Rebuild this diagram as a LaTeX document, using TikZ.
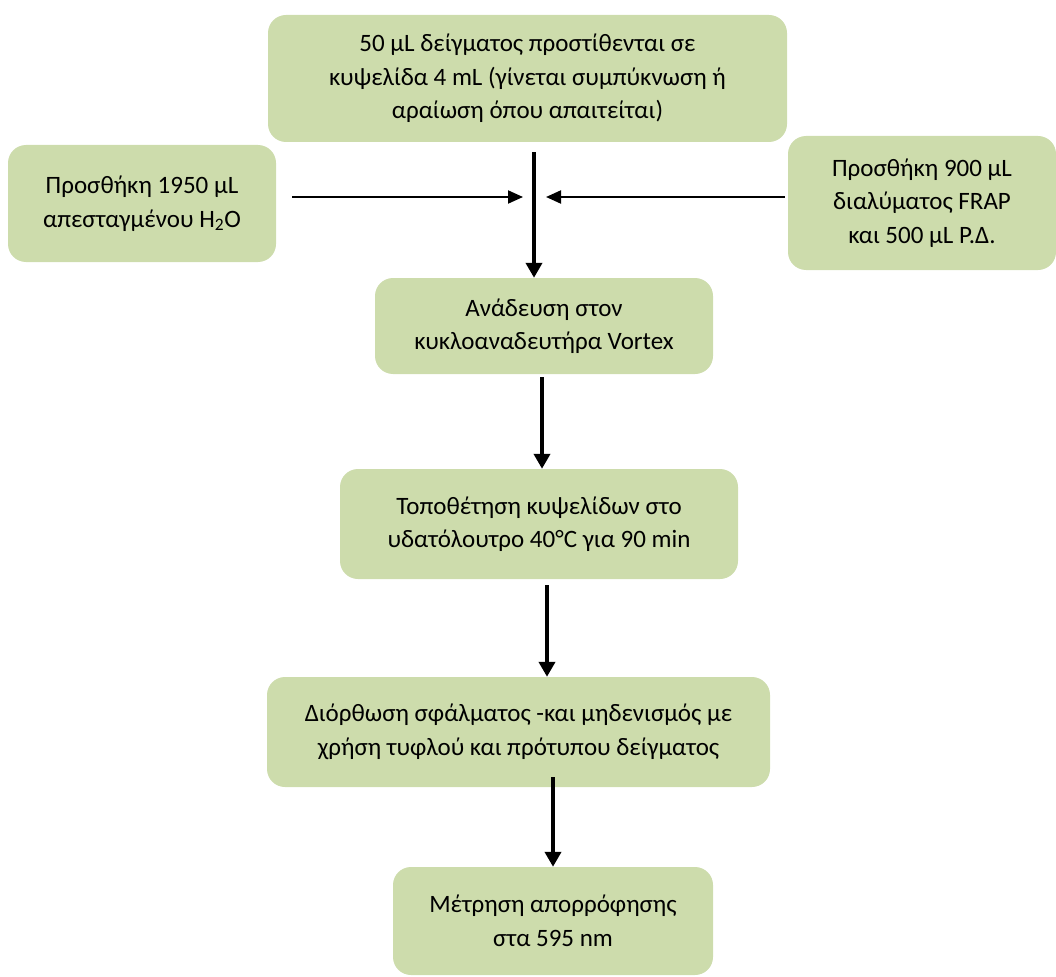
\documentclass[tikz,border=0pt]{standalone}
\usepackage{fontspec}
\setmainfont{Carlito}
\usetikzlibrary{arrows.meta,calc}
\definecolor{boxgreen}{HTML}{CDDCAC}
\begin{document}
\begin{tikzpicture}[x=1pt,y=-1pt,
  stage/.style={fill=boxgreen, rounded corners=18pt, align=center,
    font=\fontsize{25}{33.5}\selectfont, inner sep=0pt, text=black},
  flow/.style={line width=4pt, -{Triangle[length=15pt,width=16pt]}},
  feed/.style={line width=2pt, -{Triangle[length=15pt,width=13pt]}}]
\useasboundingbox (0,0) rectangle (1056,976);

% process stages
\node[stage, minimum width=519pt, minimum height=127pt] (top) at (527.5,78.5)
  {50 μL δείγματος προστίθενται σε\\κυψελίδα 4 mL (γίνεται συμπύκνωση ή\\αραίωση όπου απαιτείται)};
\node[stage, minimum width=268pt, minimum height=117pt] (water) at (142,203.5)
  {Προσθήκη 1950 μL\\απεσταγμένου H\textsubscript{2}O};
\node[stage, minimum width=268pt, minimum height=134pt] (frap) at (922,203)
  {Προσθήκη 900 μL\\διαλύματος FRAP\\και 500 μL Ρ.Δ.};
\node[stage, minimum width=338pt, minimum height=96pt] (vortex) at (544,326)
  {Ανάδευση στον\\κυκλοαναδευτήρα Vortex};
\node[stage, minimum width=398pt, minimum height=110pt] (bath) at (539,524)
  {Τοποθέτηση κυψελίδων στο\\υδατόλουτρο 40°C για 90 min};
\node[stage, minimum width=503pt, minimum height=110pt] (correction) at (518.5,732)
  {Διόρθωση σφάλματος -και μηδενισμός με\\χρήση τυφλού και πρότυπου δείγματος};
\node[stage, minimum width=320pt, minimum height=108pt] (measure) at (553,921)
  {Μέτρηση απορρόφησης\\στα 595 nm};

% junction where the reagents join the sample line
\coordinate (mix) at (534,197);

% connectors
\draw[flow] ($(top.south)+(6.5,10)$) -- (mix |- vortex.north);
\draw[feed] ($(water.east |- mix)+(16,0)$) -- ($(mix)+(-11,0)$);
\draw[feed] ($(frap.west |- mix)+(-3,0)$) -- ($(mix)+(12,0)$);
\draw[flow] ($(vortex.south)+(-2,3)$) -- ($(bath.north)+(3,0)$);
\draw[flow] ($(bath.south)+(8,6)$) -- ($(correction.north)+(28.5,0)$);
\draw[flow] ($(correction.south)+(34.5,-10)$) -- (measure.north);
\end{tikzpicture}
\end{document}
